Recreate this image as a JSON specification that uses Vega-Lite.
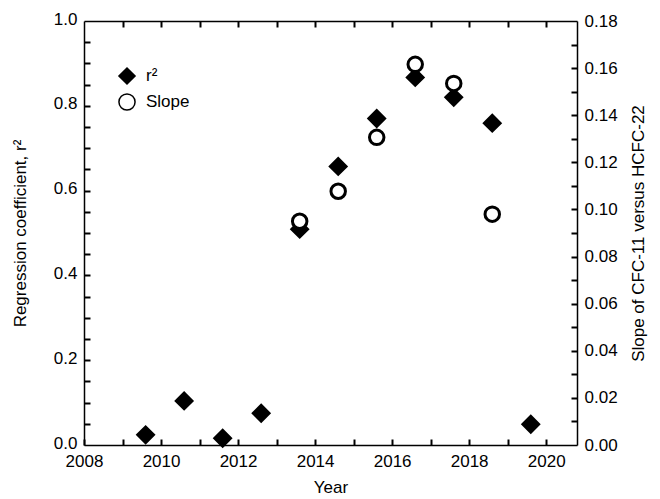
{
  "$schema": "https://vega.github.io/schema/vega-lite/v6.json",
  "width": 493,
  "height": 424,
  "autosize": {"type": "none"},
  "padding": {"left": 84, "top": 21, "right": 83, "bottom": 54},
  "background": "white",
  "config": {
    "view": {"stroke": null, "fill": null},
    "font": "Liberation Sans",
    "axis": {
      "labelFont": "Liberation Sans",
      "titleFont": "Liberation Sans",
      "labelFontSize": 17,
      "titleFontSize": 17,
      "titleFontWeight": "normal",
      "labelColor": "black",
      "titleColor": "black",
      "domainColor": "black",
      "tickColor": "black",
      "domainWidth": 1.5,
      "grid": false
    }
  },
  "data": {
    "values": [
      {"year": 2009.6, "measure": "r²", "value": 0.024},
      {"year": 2010.6, "measure": "r²", "value": 0.104},
      {"year": 2011.6, "measure": "r²", "value": 0.016},
      {"year": 2012.6, "measure": "r²", "value": 0.075},
      {"year": 2013.6, "measure": "r²", "value": 0.509},
      {"year": 2014.6, "measure": "r²", "value": 0.657},
      {"year": 2015.6, "measure": "r²", "value": 0.770},
      {"year": 2016.6, "measure": "r²", "value": 0.867},
      {"year": 2017.6, "measure": "r²", "value": 0.820},
      {"year": 2018.6, "measure": "r²", "value": 0.759},
      {"year": 2019.6, "measure": "r²", "value": 0.049},
      {"year": 2013.6, "measure": "Slope", "value": 0.095},
      {"year": 2014.6, "measure": "Slope", "value": 0.1077},
      {"year": 2015.6, "measure": "Slope", "value": 0.1306},
      {"year": 2016.6, "measure": "Slope", "value": 0.1616},
      {"year": 2017.6, "measure": "Slope", "value": 0.1535},
      {"year": 2018.6, "measure": "Slope", "value": 0.098}
    ]
  },
  "layer": [
    {
      "transform": [{"filter": "datum.measure == 'r²'"}],
      "mark": {"type": "point", "opacity": 0},
      "encoding": {
        "x": {
          "field": "year", "type": "quantitative",
          "scale": {"domain": [2008, 2020.8], "nice": false, "zero": false},
          "axis": {
            "orient": "bottom", "title": null, "labels": false, "domain": false,
            "ticks": true, "tickSize": 6, "tickWidth": 2, "tickColor": "#000000", "offset": -6,
            "values": [2008, 2009, 2010, 2011, 2012, 2013, 2014, 2015, 2016, 2017, 2018, 2019, 2020]
          }
        },
        "y": {
          "field": "value", "type": "quantitative",
          "scale": {"domain": [0, 1], "nice": false},
          "axis": {
            "orient": "left", "title": null, "labels": false, "domain": false,
            "ticks": true, "tickSize": 6, "tickWidth": 2, "tickColor": "#000000", "offset": -6,
            "values": [0.05, 0.1, 0.15, 0.2, 0.25, 0.3, 0.35, 0.4, 0.45, 0.5, 0.55, 0.6, 0.65, 0.7, 0.75, 0.8, 0.85, 0.9, 0.95]
          }
        }
      }
    },
    {
      "transform": [{"filter": "datum.measure == 'Slope'"}],
      "mark": {"type": "point", "opacity": 0},
      "encoding": {
        "x": {
          "field": "year", "type": "quantitative",
          "scale": {"domain": [2008, 2020.8], "nice": false, "zero": false},
          "axis": {
            "orient": "top", "title": null, "labels": false, "domain": false,
            "ticks": true, "tickSize": 6, "tickWidth": 2, "tickColor": "#000000", "offset": -6,
            "values": [2009, 2010, 2011, 2012, 2013, 2014, 2015, 2016, 2017, 2018, 2019, 2020]
          }
        },
        "y": {
          "field": "value", "type": "quantitative",
          "scale": {"domain": [0, 0.18], "nice": false},
          "axis": {
            "orient": "right", "title": null, "labels": false, "domain": false,
            "ticks": true, "tickSize": 6, "tickWidth": 2, "tickColor": "#000000", "offset": -6,
            "values": [0.01, 0.02, 0.03, 0.04, 0.05, 0.06, 0.07, 0.08, 0.09, 0.1, 0.11, 0.12, 0.13, 0.14, 0.15, 0.16, 0.17]
          }
        }
      }
    },
    {
      "transform": [{"filter": "datum.measure == 'r²'"}],
      "mark": {"type": "point", "filled": true, "stroke": "black", "strokeWidth": 2, "size": 290, "opacity": 1},
      "encoding": {
        "x": {
          "field": "year", "type": "quantitative",
          "scale": {"domain": [2008, 2020.8], "nice": false, "zero": false},
          "axis": {
            "orient": "bottom", "title": "Year", "ticks": false,
            "values": [2008, 2010, 2012, 2014, 2016, 2018, 2020],
            "format": "d",
            "labelPadding": 8, "titlePadding": 10, "labelFlush": false
          }
        },
        "y": {
          "field": "value", "type": "quantitative",
          "scale": {"domain": [0, 1], "nice": false},
          "axis": {
            "orient": "left", "title": "Regression coefficient, r²", "ticks": false,
            "values": [0, 0.2, 0.4, 0.6, 0.8, 1],
            "format": ".1f",
            "labelPadding": 7, "titlePadding": 24, "labelFlush": false, "labelOffset": -2
          }
        },
        "shape": {
          "field": "measure", "type": "nominal",
          "scale": {"domain": ["r²", "Slope"], "range": ["diamond", "circle"]},
          "legend": {
            "orient": "none", "legendX": 34, "legendY": 46, "title": null,
            "labelFontSize": 17, "labelFont": "Liberation Sans", "labelColor": "black",
            "symbolSize": 260, "rowPadding": 2, "labelOffset": 10, "padding": 0,
            "encode": {"symbols": {"update": {"stroke": {"value": "black"}, "strokeWidth": {"value": 2.5}, "opacity": {"value": 1}}}}
          }
        },
        "fill": {
          "field": "measure", "type": "nominal",
          "scale": {"domain": ["r²", "Slope"], "range": ["black", "white"]},
          "legend": {
            "orient": "none", "legendX": 34, "legendY": 46, "title": null,
            "labelFontSize": 17, "labelFont": "Liberation Sans", "labelColor": "black",
            "symbolSize": 260, "rowPadding": 2, "labelOffset": 10, "padding": 0,
            "encode": {"symbols": {"update": {"stroke": {"value": "black"}, "strokeWidth": {"value": 2.5}, "opacity": {"value": 1}}}}
          }
        }
      }
    },
    {
      "transform": [{"filter": "datum.measure == 'Slope'"}],
      "mark": {"type": "point", "filled": true, "stroke": "black", "strokeWidth": 3, "size": 210, "opacity": 1},
      "encoding": {
        "x": {
          "field": "year", "type": "quantitative",
          "scale": {"domain": [2008, 2020.8], "nice": false, "zero": false},
          "axis": {
            "orient": "top", "title": null, "labels": false, "ticks": false,
            "values": [2008]
          }
        },
        "y": {
          "field": "value", "type": "quantitative",
          "scale": {"domain": [0, 0.18], "nice": false},
          "axis": {
            "orient": "right", "title": "Slope of CFC-11 versus HCFC-22", "ticks": false,
            "values": [0, 0.02, 0.04, 0.06, 0.08, 0.1, 0.12, 0.14, 0.16, 0.18],
            "format": ".2f",
            "labelPadding": 7, "titlePadding": 13, "titleAngle": 270, "titleBaseline": "top", "labelFlush": false
          }
        },
        "shape": {"field": "measure", "type": "nominal", "scale": {"domain": ["r²", "Slope"], "range": ["diamond", "circle"]}},
        "fill": {"field": "measure", "type": "nominal", "scale": {"domain": ["r²", "Slope"], "range": ["black", "white"]}}
      }
    }
  ],
  "resolve": {
    "scale": {"x": "independent", "y": "independent"},
    "axis": {"x": "independent", "y": "independent"}
  }
}
